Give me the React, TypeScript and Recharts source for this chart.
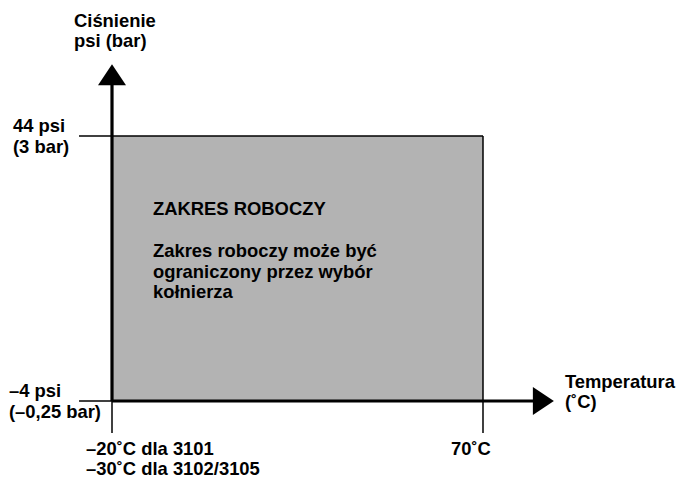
import React from "react";
import {
  ComposedChart,
  XAxis,
  YAxis,
  ReferenceArea,
  ReferenceLine,
  ReferenceDot,
} from "recharts";

// ---- data ----
const tempRange = [-20, 70]; // °C, working range
const pressureRange = [-4, 44]; // psi, working range
const tempDomain = [-30, 90];
const pressureDomain = [-12, 60];
const tempAxisEnd = [87.2]; // arrow tip of temperature axis
const pressureAxisEnd = [57.0]; // arrow tip of pressure axis
const tempTickStub = [-28]; // where horizontal guide lines start on the left
const pressureTickStub = [-9.8]; // where vertical guide lines end at the bottom

const tempTicks = [-20, 70];
const tempTickLabels = [["–20˚C dla 3101", "–30˚C dla 3102/3105"], ["70˚C"]];
const pressureTicks = [44, -4];
const pressureTickLabels = [["44 psi", "(3 bar)"], ["–4 psi", "(–0,25 bar)"]];

const pressureAxisTitle = ["Ciśnienie", "psi (bar)"];
const tempAxisTitle = ["Temperatura", "(˚C)"];
const regionTitle = ["ZAKRES ROBOCZY"];
const regionNote = ["Zakres roboczy może być", "ograniczony przez wybór", "kołnierza"];

const chartData = [
  { t: tempRange[0], p: pressureRange[0] },
  { t: tempRange[1], p: pressureRange[1] },
];

// ---- styles ----
const FONT = "'Liberation Sans', Arial, Helvetica, sans-serif";
const FS = 18.4;
const textStyle = { fontFamily: FONT, fontSize: FS, fontWeight: 700, fill: "#000" } as const;

const XTick = (props: any) => {
  const { x, payload } = props;
  const idx = tempTicks.indexOf(payload.value);
  const lines = tempTickLabels[idx] || [];
  const dx = idx === 0 ? -26 : -32;
  return (
    <g>
      {lines.map((l, i) => (
        <text key={i} x={x + dx} y={455 + i * 20} textAnchor="start" style={textStyle}>
          {l}
        </text>
      ))}
    </g>
  );
};

const YTick = (props: any) => {
  const { y, payload } = props;
  const idx = pressureTicks.indexOf(payload.value);
  const lines = pressureTickLabels[idx] || [];
  const x0 = idx === 0 ? 13 : 9;
  return (
    <g>
      {lines.map((l, i) => (
        <text key={i} x={x0} y={y - 4 + i * 21} textAnchor="start" style={textStyle}>
          {l}
        </text>
      ))}
    </g>
  );
};

const UpArrow = (props: any) => {
  const { cx, cy } = props;
  return (
    <g>
      <polygon points={`${cx},${cy} ${cx - 14},${cy + 21} ${cx + 14},${cy + 21}`} fill="#000" />
      {pressureAxisTitle.map((l, i) => (
        <text key={i} x={cx - 38} y={cy - 37 + i * 20} textAnchor="start" style={textStyle}>
          {l}
        </text>
      ))}
    </g>
  );
};

const RightArrow = (props: any) => {
  const { cx, cy } = props;
  return (
    <g>
      <polygon points={`${cx},${cy} ${cx - 21},${cy - 14} ${cx - 21},${cy + 14}`} fill="#000" />
      {tempAxisTitle.map((l, i) => (
        <text key={i} x={cx + 11} y={cy - 13 + i * 20} textAnchor="start" style={textStyle}>
          {l}
        </text>
      ))}
    </g>
  );
};

const RegionLabel = (props: any) => {
  const vb = props.viewBox || {};
  const x = vb.x + 41;
  const y = vb.y;
  return (
    <g>
      {regionTitle.map((l, i) => (
        <text key={"t" + i} x={x} y={y + 79} style={textStyle}>
          {l}
        </text>
      ))}
      {regionNote.map((l, i) => (
        <text key={"n" + i} x={x} y={y + 121 + i * 20.5} style={textStyle}>
          {l}
        </text>
      ))}
    </g>
  );
};

export default function App() {
  return (
    <div style={{ position: "absolute", left: 0, top: 0, width: 677, height: 478, background: "#fff" }}>
      <ComposedChart
        width={677}
        height={478}
        data={chartData}
        margin={{ top: 47.67, right: 111.56, bottom: 0, left: 0 }}
      >
        <XAxis
          type="number"
          dataKey="t"
          domain={tempDomain}
          allowDataOverflow
          ticks={tempTicks}
          interval={0}
          axisLine={false}
          tickLine={false}
          height={32.83}
          tick={<XTick />}
        />
        <YAxis
          type="number"
          dataKey="p"
          domain={pressureDomain}
          allowDataOverflow
          ticks={pressureTicks}
          interval={0}
          axisLine={false}
          tickLine={false}
          width={70.78}
          tick={<YTick />}
        />
        <ReferenceArea
          x1={tempRange[0]}
          x2={tempRange[1]}
          y1={pressureRange[0]}
          y2={pressureRange[1]}
          fill="#b3b3b3"
          fillOpacity={1}
          stroke="none"
          label={(p: any) => <RegionLabel {...p} />}
        />
        {/* thin guide lines */}
        <ReferenceLine
          segment={[
            { x: tempTickStub[0], y: pressureRange[1] },
            { x: tempRange[1], y: pressureRange[1] },
          ]}
          stroke="#000"
          strokeWidth={1.5}
        />
        <ReferenceLine
          segment={[
            { x: tempTickStub[0], y: pressureRange[0] },
            { x: tempRange[0], y: pressureRange[0] },
          ]}
          stroke="#000"
          strokeWidth={1.5}
        />
        <ReferenceLine
          segment={[
            { x: tempRange[1], y: pressureRange[1] },
            { x: tempRange[1], y: pressureTickStub[0] },
          ]}
          stroke="#000"
          strokeWidth={1.5}
        />
        <ReferenceLine
          segment={[
            { x: tempRange[0], y: pressureRange[0] },
            { x: tempRange[0], y: pressureTickStub[0] },
          ]}
          stroke="#000"
          strokeWidth={1.5}
        />
        {/* thick axes */}
        <ReferenceLine
          segment={[
            { x: tempRange[0], y: pressureRange[0] },
            { x: tempRange[0], y: pressureAxisEnd[0] - 3 },
          ]}
          stroke="#000"
          strokeWidth={3.2}
        />
        <ReferenceLine
          segment={[
            { x: tempRange[0], y: pressureRange[0] },
            { x: tempAxisEnd[0] - 4, y: pressureRange[0] },
          ]}
          stroke="#000"
          strokeWidth={3}
        />
        <ReferenceDot
          x={tempRange[0]}
          y={pressureAxisEnd[0]}
          r={1}
          shape={(p: any) => <UpArrow {...p} />}
        />
        <ReferenceDot
          x={tempAxisEnd[0]}
          y={pressureRange[0]}
          r={1}
          shape={(p: any) => <RightArrow {...p} />}
        />
      </ComposedChart>
    </div>
  );
}
